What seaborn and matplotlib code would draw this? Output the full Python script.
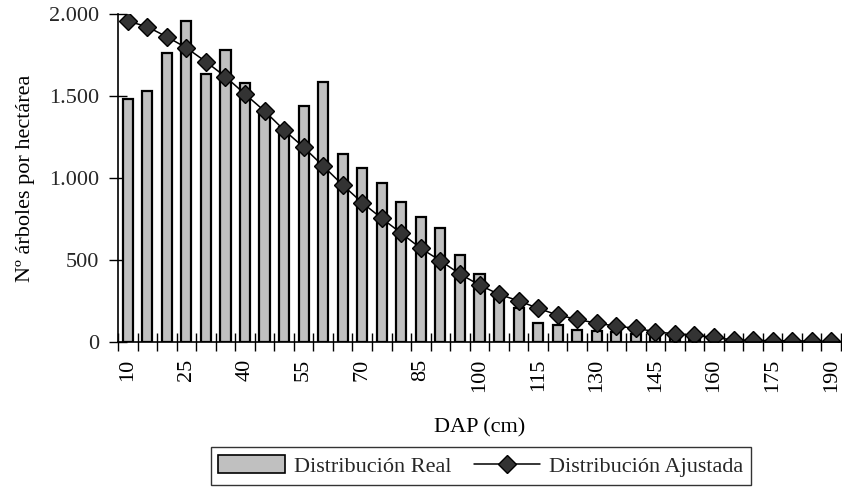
import matplotlib
matplotlib.use("Agg")
import matplotlib.pyplot as plt
import seaborn as sns
import pandas as pd
import numpy as np
from matplotlib.patches import Patch
from matplotlib.lines import Line2D
from matplotlib.ticker import FuncFormatter, FixedLocator

dap = list(range(10, 195, 5))
real = [1485, 1530, 1765, 1957, 1632, 1780, 1577, 1400, 1310, 1441, 1587, 1150,
        1062, 972, 855, 765, 695, 532, 414, 295, 208, 120, 103, 72, 70, 60, 52,
        45, 38, 33, 28, 0, 0, 0, 0, 0, 0]
ajustada = [1957, 1922, 1861, 1794, 1709, 1618, 1512, 1409, 1293, 1188, 1074, 958,
            850, 755, 664, 572, 497, 416, 349, 292, 253, 207, 166, 140, 116, 99, 85,
            65, 51, 42, 30, 14, 12, 10, 9, 7, 5]
tick_labels = [str(v) for v in dap]

df = pd.DataFrame({"DAP": [str(v) for v in dap], "real": real, "ajustada": ajustada})

sns.set_theme(style="white")
plt.rcParams['font.family'] = ['Liberation Serif', 'DejaVu Serif']
FS = 16

fig = plt.figure(figsize=(8.42, 4.93), dpi=100)
ax = fig.add_axes([118/842, (493-342.3)/493, (841-118)/842, (342.3-14)/493])

order = [str(v) for v in dap]
sns.barplot(data=df, x="DAP", y="real", order=order, color="#c0c0c0",
            saturation=1, width=0.52, edgecolor="black", linewidth=1.6, ax=ax)
sns.pointplot(data=df, x="DAP", y="ajustada", order=order, color="black",
              markers="D", linestyles="-", ax=ax)
for ln in ax.lines:
    ln.set_markerfacecolor("#333333")
    ln.set_markeredgecolor("black")
    ln.set_markersize(9.5)
    ln.set_markeredgewidth(1.0)
    ln.set_linewidth(1.1)

ax.set_xlim(-0.5, len(dap) - 0.5)
ax.set_ylim(0, 2000)
ax.set_yticks([0, 500, 1000, 1500, 2000])
ax.yaxis.set_major_formatter(FuncFormatter(lambda v, p: f"{int(v):,}".replace(",", ".")))

major = list(range(0, len(dap), 3))
ax.xaxis.set_major_locator(FixedLocator(major))
ax.set_xticklabels([tick_labels[i] for i in major], rotation=90)
ax.xaxis.set_minor_locator(FixedLocator(np.arange(-0.5, len(dap), 1.0)))
ax.tick_params(axis="x", which="major", length=0, pad=12, labelsize=FS, colors="black")
ax.tick_params(axis="x", which="minor", direction="inout", length=13, width=1.0,
               color="black", bottom=True)
ax.tick_params(axis="y", which="major", direction="inout", length=13, width=1.0,
               color="black", left=True, labelsize=FS, pad=7)
for s in ["top", "right"]:
    ax.spines[s].set_visible(False)
for s in ["left", "bottom"]:
    ax.spines[s].set_color("black")
    ax.spines[s].set_linewidth(1.2)

ax.set_xlabel("DAP (cm)", fontsize=FS, labelpad=19, color="black")
ax.set_ylabel("Nº árboles por hectárea", fontsize=FS, labelpad=10, color="black")

handles = [Patch(facecolor="#c0c0c0", edgecolor="black", linewidth=1.2),
           Line2D([0], [0], color="black", linewidth=1.1, marker="D",
                  markerfacecolor="#333333", markeredgecolor="black", markersize=9)]
leg = fig.legend(handles, ["Distribución Real", "Distribución Ajustada"],
                 loc="center", bbox_to_anchor=(481/842, 1 - 466/493), ncol=2,
                 frameon=True, fancybox=False, shadow=False, fontsize=FS,
                 handlelength=3.0, handleheight=0.85, columnspacing=1.0,
                 borderpad=0.35, handletextpad=0.4)
leg.get_frame().set_edgecolor("black")
leg.get_frame().set_linewidth(1.0)

fig.savefig("out.png", dpi=100)
